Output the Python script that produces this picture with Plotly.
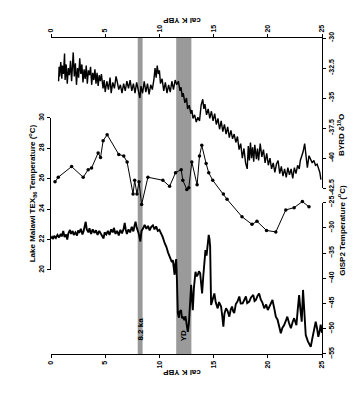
import plotly.graph_objects as go

# ---------------- data ----------------
byrd_age = [0.7, 0.75, 0.8, 0.9, 1.0, 1.05, 1.15, 1.25, 1.3, 1.4, 1.5, 1.6, 1.7, 1.8, 1.9, 2.0, 2.05, 2.15, 2.25, 2.35,
            2.45, 2.55, 2.65, 2.75, 2.85, 2.95, 3.05, 3.15, 3.25, 3.35, 3.45, 3.55, 3.65, 3.75, 3.85, 3.95, 4.05, 4.15,
            4.25, 4.35, 4.45, 4.55, 4.65, 4.8, 4.9, 5.0, 5.15, 5.3, 5.45, 5.55, 5.7, 5.85, 6.0, 6.1, 6.25, 6.4, 6.55,
            6.7, 6.85, 7.0, 7.15, 7.3, 7.45, 7.6, 7.75, 7.9, 8.05, 8.2, 8.3, 8.45, 8.6, 8.75, 8.9, 9.05, 9.2, 9.35,
            9.5, 9.6, 9.7, 9.8, 9.9, 10.0, 10.1, 10.25, 10.4, 10.55, 10.7, 10.85, 11.0, 11.15, 11.3, 11.45, 11.6,
            11.75, 11.9, 12.0, 12.1, 12.2, 12.35, 12.5, 12.6, 12.75, 12.9, 13.0, 13.1, 13.25, 13.4, 13.55, 13.7,
            13.85, 14.0, 14.1, 14.2, 14.35, 14.5, 14.65, 14.8, 14.95, 15.1, 15.25, 15.4, 15.55, 15.7, 15.85, 16.0,
            16.15, 16.3, 16.45, 16.6, 16.75, 16.9, 17.05, 17.2, 17.35, 17.5, 17.65, 17.8, 17.95, 18.1, 18.2, 18.3,
            18.4, 18.5, 18.6, 18.7, 18.8, 18.95, 19.05, 19.15, 19.3, 19.45, 19.6, 19.75, 19.9, 20.05, 20.2, 20.35,
            20.5, 20.65, 20.8, 20.95, 21.1, 21.25, 21.4, 21.55, 21.7, 21.85, 22.0, 22.15, 22.3, 22.45, 22.6, 22.75,
            22.9, 23.0, 23.1, 23.25, 23.4, 23.5, 23.65, 23.8, 23.95, 24.1, 24.25, 24.4, 24.55, 24.7, 24.8, 24.9]
byrd_d18o = [-33.6, -32.4, -33.2, -32.0, -33.4, -32.3, -33.0, -31.3, -33.5, -32.2, -33.8, -32.5, -33.1, -31.9, -33.6,
             -32.4, -31.2, -33.2, -32.1, -33.9, -32.5, -33.3, -31.7, -33.0, -32.2, -33.7, -32.6, -33.4, -32.3, -33.8,
             -32.7, -33.1, -32.4, -33.9, -32.9, -33.5, -32.6, -33.8, -32.9, -34.0, -33.1, -33.6, -33.0, -34.2, -33.5,
             -34.5, -33.6, -34.3, -33.3, -34.6, -33.7, -34.2, -33.2, -33.6, -34.3, -33.9, -34.6, -33.8, -34.4, -33.6,
             -34.2, -33.5, -34.4, -33.8, -34.6, -33.7, -34.3, -35.0, -34.0, -34.6, -33.6, -34.5, -33.8, -34.7, -33.9,
             -34.3, -33.4, -32.5, -33.3, -32.3, -33.0, -32.7, -33.8, -33.4, -34.4, -33.7, -34.6, -33.9, -34.5, -33.6,
             -34.3, -33.5, -33.9, -33.6, -34.4, -34.1, -34.9, -34.6, -35.4, -35.0, -35.9, -35.6, -36.3, -36.0, -36.7,
             -36.4, -37.0, -36.6, -36.9, -35.6, -35.1, -35.9, -35.5, -36.4, -35.9, -36.7, -36.1, -36.9, -36.3, -37.2,
             -36.7, -37.6, -36.9, -37.8, -37.2, -38.0, -37.4, -38.3, -37.7, -38.4, -38.0, -38.7, -38.2, -39.3, -38.8,
             -40.0, -39.2, -40.4, -40.9, -39.0, -40.2, -38.7, -40.0, -39.1, -40.3, -38.9, -40.1, -39.2, -40.2, -38.8,
             -39.9, -39.3, -40.4, -39.6, -40.6, -40.0, -40.9, -40.4, -41.2, -40.5, -40.2, -41.3, -40.7, -41.5, -40.9,
             -41.6, -40.8, -41.4, -40.9, -41.7, -40.8, -41.3, -40.6, -40.9, -40.2, -39.9, -39.5, -38.8, -39.6, -40.8,
             -39.8, -40.1, -40.4, -40.2, -40.6, -40.5, -40.9, -41.2, -41.8]

tex_age = [0.37, 0.67, 1.9, 2.97, 3.43, 3.74, 4.35, 4.57, 4.81, 5.18, 6.25, 6.71, 7.02, 7.57, 7.72, 7.93, 8.12, 8.36,
           8.94, 10.32, 10.94, 11.49, 12.01, 12.16, 12.53, 12.71, 12.99, 13.48, 13.7, 13.91, 14.31, 14.55, 14.92,
           15.9, 16.24, 17.62, 18.54, 19.0, 19.88, 20.74, 21.66, 22.43, 23.19, 23.8]
tex_temp = [25.8, 26.1, 26.8, 26.1, 26.6, 26.7, 27.7, 27.4, 28.5, 28.9, 27.6, 27.5, 27.1, 25.0, 25.9, 25.0, 25.8, 24.3,
            26.1, 25.9, 25.5, 26.4, 26.6, 25.9, 25.3, 25.4, 27.1, 25.6, 27.5, 28.2, 27.0, 26.4, 25.9,
            25.0, 24.65, 23.5, 23.0, 23.2, 22.6, 22.5, 23.95, 24.1, 24.5, 24.15]

gisp_age = [0.0, 0.1, 0.2, 0.3, 0.45, 0.6, 0.75, 0.9, 1.0, 1.13, 1.25, 1.4, 1.5, 1.6, 1.75, 1.85, 2.0, 2.1, 2.25, 2.4,
            2.5, 2.6, 2.75, 2.9, 3.0, 3.1, 3.2, 3.3, 3.45, 3.55, 3.7, 3.85, 4.0, 4.15, 4.3, 4.45, 4.6, 4.75, 4.85,
            4.95, 5.1, 5.25, 5.4, 5.55, 5.7, 5.8, 5.95, 6.1, 6.25, 6.4, 6.55, 6.7, 6.8, 6.9, 7.0, 7.15, 7.3, 7.45,
            7.6, 7.7, 7.8, 7.9, 8.0, 8.1, 8.24, 8.35, 8.5, 8.64, 8.8, 8.95, 9.1, 9.25, 9.4, 9.55, 9.7, 9.85, 10.0,
            10.17, 10.3, 10.5, 10.65, 10.8, 10.94, 11.05, 11.15, 11.24, 11.32, 11.4, 11.47, 11.55, 11.62, 11.7,
            11.8, 11.86, 12.0, 12.08, 12.16, 12.3, 12.4, 12.5, 12.62, 12.72, 12.82, 12.93, 13.0, 13.08, 13.18,
            13.33, 13.42, 13.54, 13.65, 13.76, 13.85, 13.94, 14.05, 14.15, 14.25, 14.35, 14.45, 14.55, 14.62,
            14.68, 14.77, 14.9, 15.07, 15.2, 15.38, 15.5, 15.69, 15.8, 15.9, 16.0, 16.15, 16.3, 16.45, 16.58,
            16.7, 16.8, 16.9, 17.05, 17.2, 17.37, 17.5, 17.68, 17.85, 17.98, 18.1, 18.29, 18.45, 18.66, 18.78,
            18.9, 19.05, 19.2, 19.35, 19.5, 19.67, 19.85, 20.0, 20.13, 20.3, 20.43, 20.6, 20.74, 20.9, 21.05,
            21.2, 21.35, 21.5, 21.65, 21.8, 21.95, 22.13, 22.3, 22.43, 22.55, 22.64, 22.75, 22.89, 23.0, 23.13,
            23.25, 23.38, 23.5, 23.7, 23.85, 23.96, 24.1, 24.25, 24.42, 24.55, 24.66, 24.78, 24.88, 25.0]
gisp_temp = [-32.1, -31.8, -32.2, -31.6, -32.0, -31.4, -31.9, -31.2, -31.7, -30.6, -31.8, -31.3, -32.3, -31.1, -30.4,
             -31.2, -30.6, -31.4, -30.9, -31.5, -30.5, -31.0, -30.2, -31.3, -30.7, -30.0, -28.8, -30.3, -30.9, -30.1,
             -31.2, -30.3, -31.0, -30.5, -31.4, -30.6, -31.2, -31.6, -32.1, -30.9, -31.3, -30.6, -31.4, -30.3, -30.9,
             -30.0, -31.2, -30.6, -31.5, -30.4, -31.1, -30.2, -29.0, -30.4, -31.2, -30.3, -30.9, -29.8, -30.7, -29.6,
             -28.8, -29.9, -30.6, -31.2, -32.7, -30.6, -30.1, -29.4, -30.2, -29.6, -30.5, -29.8, -29.5, -30.3, -29.7,
             -30.6, -30.4, -31.1, -31.8, -33.1, -33.8, -34.9, -35.7, -36.0, -36.8, -36.4, -37.5, -39.3, -37.2, -36.2,
             -40.5, -46.9, -47.8, -46.6, -46.3, -47.9, -47.6, -48.3, -47.5, -49.2, -50.6, -49.0, -44.5, -41.3, -44.0,
             -46.3, -42.0, -38.7, -39.6, -39.3, -38.6, -39.0, -41.0, -43.0, -39.5, -37.0, -34.4, -35.5, -32.8, -31.4,
             -32.2, -33.7, -45.3, -44.2, -43.0, -44.8, -45.95, -44.7, -45.6, -47.5, -49.6, -47.0, -45.95, -46.5,
             -47.6, -46.2, -45.6, -46.5, -46.9, -45.1, -44.6, -43.6, -45.0, -44.96, -44.0, -43.6, -44.9, -44.6,
             -43.8, -43.3, -44.5, -44.3, -43.5, -43.0, -44.2, -44.8, -45.95, -45.2, -46.3, -45.6, -45.0, -44.3,
             -46.0, -47.6, -48.2, -49.3, -50.9, -49.8, -49.3, -48.5, -47.6, -48.8, -49.9, -48.6, -47.9, -48.7,
             -49.3, -46.5, -43.3, -46.0, -48.6, -42.3, -47.0, -51.25, -52.5, -53.3, -53.6, -52.0, -50.3, -48.6,
             -50.0, -51.6, -50.5, -49.2, -50.8]

events = ["8.2 ka", "YD"]
event_start = [8.0, 11.55]
event_end = [8.45, 12.95]

age_ticks = [0, 5, 10, 15, 20, 25]
byrd_ticks = [-30, -32.5, -35, -37.5, -40, -42.5]
gisp_ticks = [-25, -30, -35, -40, -45, -50, -55]
tex_ticks = [20, 22, 24, 26, 28, 30]

# ---------------- figure ----------------
FONT = "Liberation Sans, Arial, sans-serif"
tf = dict(family=FONT, size=7, color="black", weight="bold")
titlef = dict(family=FONT, size=8, color="black", weight="bold")

fig = go.Figure()
fig.add_trace(go.Scatter(x=byrd_age, y=byrd_d18o, mode="lines", xaxis="x2", yaxis="y",
                         line=dict(color="black", width=1.4), showlegend=False))
fig.add_trace(go.Scatter(x=tex_age, y=tex_temp, mode="lines+markers", xaxis="x", yaxis="y3",
                         line=dict(color="black", width=1), marker=dict(size=3.5, color="black"),
                         showlegend=False))
fig.add_trace(go.Scatter(x=gisp_age, y=gisp_temp, mode="lines", xaxis="x", yaxis="y2",
                         line=dict(color="black", width=1.9), showlegend=False))

for s, e in zip(event_start, event_end):
    fig.add_shape(type="rect", xref="x", yref="paper", x0=s, x1=e, y0=0, y1=1,
                  fillcolor="#9a9a9a", line=dict(width=0), layer="below")

for name, s, e in zip(events, event_start, event_end):
    fig.add_annotation(x=(s + e) / 2, y=0.035, xref="x", yref="paper", text=name, showarrow=False,
                       textangle=-90, font=titlef)

ax_common = dict(showline=True, linecolor="black", linewidth=1, ticks="outside", ticklen=3,
                 tickcolor="black", tickfont=tf, tickangle=-90, showgrid=False, zeroline=False,
                 automargin=False)

# page body adds an 8px offset, so the figure is sized 8px smaller than the window
fig.update_layout(
    template="none",
    width=354, height=396,
    margin=dict(l=43, r=40, t=30, b=50, autoexpand=False),
    paper_bgcolor="white", plot_bgcolor="rgba(0,0,0,0)",
    xaxis=dict(range=[0, 25], domain=[0, 1], anchor="y2", tickvals=age_ticks, **ax_common),
    xaxis2=dict(range=[0, 25], domain=[0, 1], anchor="y", overlaying="x", side="top",
                tickvals=age_ticks, **ax_common),
    yaxis=dict(range=[-42.5, -30], domain=[0.525, 1], side="right", anchor="x2",
               tickvals=byrd_ticks, ticktext=[str(v) for v in byrd_ticks], **ax_common),
    yaxis2=dict(range=[-55, -25], domain=[0, 0.479], side="right", anchor="x",
                tickvals=gisp_ticks, **ax_common),
    yaxis3=dict(range=[20, 30], domain=[0.266, 0.747], side="left", anchor="x",
                tickvals=tex_ticks, **ax_common),
)

fig.add_annotation(x=0.483, y=1.076, xref="paper", yref="paper", text="cal K YBP", showarrow=False,
                   textangle=180, font=titlef)
fig.add_annotation(x=0.483, y=-0.079, xref="paper", yref="paper", text="cal K YBP", showarrow=False,
                   textangle=180, font=titlef)
fig.add_annotation(x=-0.096, y=0.51, xref="paper", yref="paper",
                   text="Lake Malawi TEX<sub>86</sub> Temperature (<sup>o</sup>C)", showarrow=False,
                   textangle=-90, font=titlef)
fig.add_annotation(x=1.096, y=0.766, xref="paper", yref="paper", text="BYRD δ<sup>18</sup>O",
                   showarrow=False, textangle=-90, font=titlef)
fig.add_annotation(x=1.096, y=0.24, xref="paper", yref="paper", text="GISP2 Temperature (<sup>o</sup>C)",
                   showarrow=False, textangle=-90, font=titlef)

fig.write_html("out.html")
